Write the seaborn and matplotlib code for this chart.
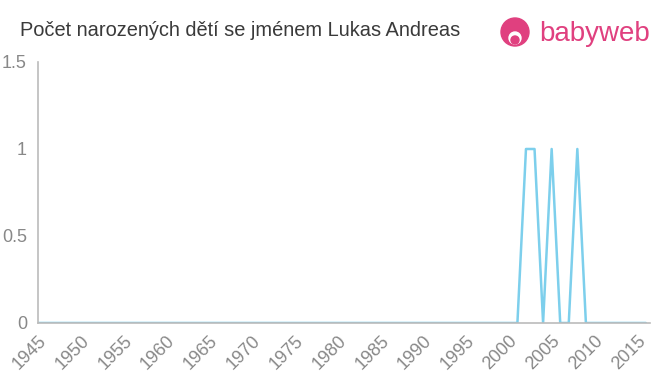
import matplotlib
matplotlib.use("Agg")
import matplotlib.pyplot as plt
import seaborn as sns
import pandas as pd
import numpy as np

years = list(range(1945, 2017))
ones = {2002: 1, 2003: 1, 2005: 1, 2008: 1}
counts = [ones.get(y, 0) for y in years]

xticks = list(range(1945, 2020, 5))
yticks = [0, 0.5, 1, 1.5]
ytick_labels = ["0", "0.5", "1", "1.5"]

df = pd.DataFrame({"year": years, "count": counts})

sns.set_theme(style="white")
plt.rcParams['font.family'] = ['Liberation Sans', 'DejaVu Sans']

fig = plt.figure(figsize=(6.6, 3.75), dpi=100)
ax = fig.add_axes([0.0576, 0.1387, 0.9274, 0.696])

sns.lineplot(data=df, x="year", y="count", ax=ax, color="#7dcfec", linewidth=1.8)

ax.set_xlim(1945, 2016.5)
ax.set_ylim(0, 1.5)
ax.set_xticks(xticks)
ax.set_xticklabels([str(t) for t in xticks], rotation=45, ha="right", rotation_mode="anchor")
ax.set_yticks(yticks)
ax.set_yticklabels(ytick_labels)
ax.set_xlabel("")
ax.set_ylabel("")

for s in ["top", "right"]:
    ax.spines[s].set_visible(False)
for s in ["left", "bottom"]:
    ax.spines[s].set_color("#bbbbbb")
    ax.spines[s].set_linewidth(1.2)

ax.tick_params(axis="both", colors="#bbbbbb", length=5, width=1, direction="out",
               labelcolor="#888888", labelsize=13)
ax.tick_params(axis="x", pad=2)
ax.tick_params(axis="y", pad=3)
ax.grid(False)

fig.text(20/660, 1-30/375, "Počet narozených dětí se jménem Lukas Andreas",
         fontsize=14.4, color="#3a3a3a", va="center", ha="left")

# logo
logo_ax = fig.add_axes([500/660, 1-50/375, 30/660, 34/375])
logo_ax.set_xlim(0, 30); logo_ax.set_ylim(0, 34); logo_ax.axis("off")
logo_ax.add_patch(matplotlib.patches.Ellipse((15, 18), 28, 28, color="#e0407f"))
logo_ax.add_patch(matplotlib.patches.Ellipse((15, 12), 12, 12, color="white"))
logo_ax.add_patch(matplotlib.patches.Ellipse((15, 10), 8, 8, color="#e0407f"))
fig.text(539/660, 1-34/375, "babyweb", fontsize=20, color="#e0407f",
         va="center", ha="left", fontweight="normal")

fig.savefig("out.png", dpi=100)
